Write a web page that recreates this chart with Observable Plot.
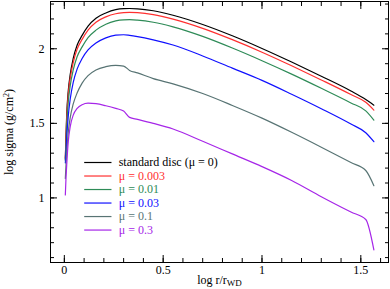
<!DOCTYPE html>
<html><head><meta charset="utf-8">
<script src="https://cdn.jsdelivr.net/npm/d3@7"></script>
<script src="https://cdn.jsdelivr.net/npm/@observablehq/plot@0.6"></script>
<style>body{margin:0;background:#fff} svg{display:block}</style>
</head><body><div id="chart"></div>
<script>
// log r / r_WD sample positions
const logR = [0.005, 0.008, 0.012, 0.02, 0.03, 0.045, 0.065, 0.09, 0.12, 0.16, 0.21, 0.26, 0.30, 0.33, 0.37, 0.45, 0.55, 0.70, 0.85, 1.0, 1.15, 1.3, 1.45, 1.525, 1.566];
// log sigma for each model
const muStandard = [1.26, 1.40, 1.56, 1.72, 1.83, 1.935, 2.025, 2.09, 2.152, 2.205, 2.24, 2.262, 2.269, 2.27, 2.268, 2.255, 2.225, 2.163, 2.087, 2.002, 1.911, 1.816, 1.717, 1.66, 1.622];
const mu0003 = [1.27, 1.39, 1.535, 1.695, 1.805, 1.908, 1.998, 2.063, 2.125, 2.178, 2.214, 2.235, 2.242, 2.244, 2.242, 2.229, 2.199, 2.137, 2.061, 1.977, 1.886, 1.791, 1.693, 1.641, 1.589];
const mu001 = [1.25, 1.34, 1.48, 1.645, 1.755, 1.858, 1.948, 2.013, 2.075, 2.125, 2.165, 2.187, 2.194, 2.195, 2.192, 2.178, 2.147, 2.083, 2.005, 1.92, 1.83, 1.735, 1.637, 1.584, 1.522];
const mu003 = [1.235, 1.28, 1.40, 1.55, 1.665, 1.775, 1.865, 1.935, 1.992, 2.038, 2.073, 2.091, 2.094, 2.09, 2.082, 2.06, 2.025, 1.952, 1.87, 1.788, 1.695, 1.598, 1.495, 1.437, 1.377];
const mu01 = [1.13, 1.21, 1.30, 1.44, 1.54, 1.63, 1.705, 1.77, 1.82, 1.858, 1.88, 1.889, 1.884, 1.855, 1.838, 1.80, 1.765, 1.70, 1.62, 1.535, 1.44, 1.34, 1.237, 1.184, 1.082];
const mu03 = [1.02, 1.12, 1.22, 1.38, 1.48, 1.555, 1.60, 1.625, 1.635, 1.632, 1.618, 1.60, 1.582, 1.54, 1.527, 1.50, 1.462, 1.38, 1.295, 1.21, 1.117, 1.008, 0.905, 0.855, 0.651];

const seriesNames = ["standard disc (μ = 0)", "μ = 0.003", "μ = 0.01", "μ = 0.03", "μ = 0.1", "μ = 0.3"];
const seriesColors = ["#000000", "#ff3030", "#2e8b57", "#1010ff", "#587474", "#a626e8"];
const seriesValues = [muStandard, mu0003, mu001, mu003, mu01, mu03];

const xMajor = [0, 0.5, 1, 1.5];
const xMinor = [0, 0.1, 0.2, 0.3, 0.4, 0.5, 0.6, 0.7, 0.8, 0.9, 1.0, 1.1, 1.2, 1.3, 1.4, 1.5, 1.6];
const yMajor = [1, 1.5, 2];
const yMinor = [0.6, 0.7, 0.8, 0.9, 1.0, 1.1, 1.2, 1.3, 1.4, 1.5, 1.6, 1.7, 1.8, 1.9, 2.0, 2.1, 2.2, 2.3];

// legend layout in data space
const legendTop = 1.2375, legendStep = 0.0906, legendX1 = 0.103, legendX2 = 0.241, legendTextX = 0.275;
const legend = seriesNames.map((name, i) => ({name, color: seriesColors[i], y: legendTop - i * legendStep}));

const lineMarks = seriesValues.map((vals, s) =>
  Plot.line(logR.map((x, i) => ({x, y: vals[i]})), {x: "x", y: "y", stroke: seriesColors[s], strokeWidth: 1.2, curve: "monotone-x"})
);

const blank = () => "";
const plot = Plot.plot({
  width: 390, height: 289,
  marginLeft: 50, marginRight: 2, marginTop: 1, marginBottom: 27,
  style: {fontFamily: "'Liberation Serif', 'DejaVu Serif', serif", fontSize: "12px", background: "#fff", color: "#000"},
  x: {domain: [-0.07, 1.64]},
  y: {domain: [0.567, 2.317]},
  marks: [
    ...lineMarks,
    Plot.ruleY(legend, {x1: legendX1, x2: legendX2, y: "y", stroke: "color", strokeWidth: 1.2}),
    Plot.text(legend, {x: legendTextX, y: "y", text: "name", fill: "color", textAnchor: "start", fontSize: 12}),
    Plot.axisX(xMinor, {anchor: "bottom", tickSize: -4, tickFormat: blank, label: null}),
    Plot.axisX(xMajor, {anchor: "bottom", tickSize: -7, tickPadding: 10, tickFormat: d => String(d), label: "log r/rWD", labelAnchor: "center", labelOffset: 21, labelArrow: "none", fontSize: 12}),
    Plot.axisX(xMinor, {anchor: "top", tickSize: -4, tickFormat: blank, label: null}),
    Plot.axisX(xMajor, {anchor: "top", tickSize: -7, tickFormat: blank, label: null}),
    Plot.axisY(yMinor, {anchor: "left", tickSize: -4, tickFormat: blank, label: null}),
    Plot.axisY(yMajor, {anchor: "left", tickSize: -7, tickPadding: 13, tickFormat: d => String(d), label: "log sigma (g/cm2)", labelAnchor: "center", labelOffset: 46, labelArrow: "none", fontSize: 12}),
    Plot.axisY(yMinor, {anchor: "right", tickSize: -4, tickFormat: blank, label: null}),
    Plot.axisY(yMajor, {anchor: "right", tickSize: -7, tickFormat: blank, label: null}),
    Plot.frame({stroke: "#000", strokeWidth: 1})
  ]
});

// subscript / superscript in the axis labels
const ns = "http://www.w3.org/2000/svg";
const xl = plot.querySelector('g[aria-label="x-axis label"] text');
if (xl) {
  xl.textContent = "log r/r";
  const t = document.createElementNS(ns, "tspan");
  t.setAttribute("dy", "2.5"); t.setAttribute("font-size", "9"); t.textContent = "WD";
  xl.appendChild(t);
}
const yl = plot.querySelector('g[aria-label="y-axis label"] text');
if (yl) {
  yl.textContent = "log sigma (g/cm";
  const s = document.createElementNS(ns, "tspan");
  s.setAttribute("dy", "-4"); s.setAttribute("font-size", "8"); s.textContent = "2";
  const c = document.createElementNS(ns, "tspan");
  c.setAttribute("dy", "4"); c.textContent = ")";
  yl.appendChild(s); yl.appendChild(c);
}
document.getElementById("chart").appendChild(plot);
</script>
</body></html>
